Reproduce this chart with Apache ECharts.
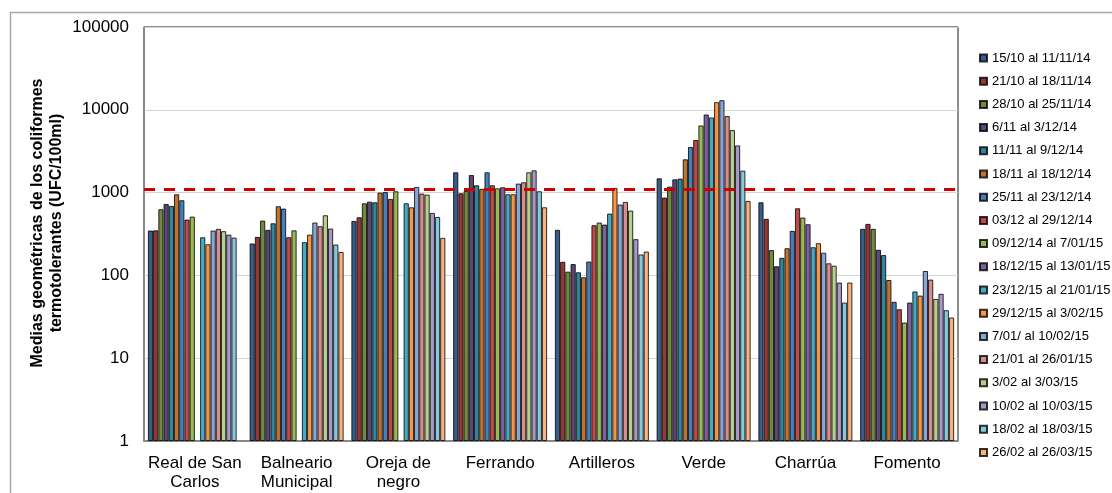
<!DOCTYPE html>
<html>
<head>
<meta charset="utf-8">
<script src="https://cdn.jsdelivr.net/npm/echarts@6/dist/echarts.min.js"></script>
<style>
html,body{margin:0;padding:0;background:#fff;}
#chart{width:1112px;height:493px;}
</style>
</head>
<body>
<div id="chart"></div>
<script>
const categories = ['Real de San\nCarlos', 'Balneario\nMunicipal', 'Oreja de\nnegro', 'Ferrando', 'Artilleros', 'Verde', 'Charrúa', 'Fomento'];
const seriesNames = ['15/10 al 11/11/14', '21/10 al 18/11/14', '28/10 al 25/11/14', '6/11 al 3/12/14', '11/11 al 9/12/14', '18/11 al 18/12/14', '25/11 al 23/12/14', '03/12 al 29/12/14', '09/12/14 al 7/01/15', '18/12/15 al 13/01/15', '23/12/15 al 21/01/15', '29/12/15 al 3/02/15', '7/01/ al 10/02/15', '21/01 al 26/01/15', '3/02 al 3/03/15', '10/02 al 10/03/15', '18/02 al 18/03/15', '26/02 al 26/03/15'];
const s1 = [348, 243, 455, 1758, 355, 1488, 765, 365];
const s2 = [350, 292, 504, 982, 146, 871, 482, 419];
const s3 = [630, 459, 743, 1047, 111, 1181, 202, 365];
const s4 = [730, 355, 778, 1633, 137, 1447, 129, 204];
const s5 = [690, 426, 764, 1226, 109, 1475, 163, 176];
const s6 = [955, 684, 1000, 1110, 95, 2524, 213, 88];
const s7 = [809, 641, 1019, 1758, 147, 3551, 345, 48];
const s8 = [472, 289, 839, 1226, 404, 4312, 647, 39];
const s9 = [513, 350, 1038, 1128, 435, 6475, 500, 27];
const s10 = [null, null, null, 1160, 411, 8785, 415, 47];
const s11 = [289, 252, 743, 955, 558, 8085, 219, 64];
const s12 = [238, 311, 665, 955, 1138, 12370, 245, 57];
const s13 = [348, 435, 1171, 1284, 717, 13070, 188, 113];
const s14 = [365, 393, 973, 1332, 772, 8400, 140, 89];
const s15 = [342, 533, 946, 1758, 607, 5690, 131, 52];
const s16 = [311, 368, 569, 1857, 274, 3715, 82, 60];
const s17 = [286, 236, 508, 1038, 179, 1843, 47, 38];
const s18 = [null, 192, 284, 665, 194, 794, 82, 31];
const limitValue = 1100;
const yTicks = [1, 10, 100, 1000, 10000, 100000];

const allSeries = [s1, s2, s3, s4, s5, s6, s7, s8, s9, s10, s11, s12, s13, s14, s15, s16, s17, s18];
const colors = ['#385D8A', '#953735', '#71893F', '#5C4776', '#31859C', '#BE7331',
  '#4A7EBB', '#BE4B48', '#98B954', '#7D60A0', '#46AAC5', '#F79646',
  '#87A6D6', '#D78D8B', '#B7D08E', '#A898C7', '#86C9DC', '#F9B27F'];
const FONT = '"Liberation Sans", Arial, sans-serif';

const series = allSeries.map((d, i) => {
  const s = {
    name: seriesNames[i],
    type: 'bar',
    data: d.map(v => v === null ? '-' : v),
    barGap: '0%',
    barCategoryGap: '7.6%',
    itemStyle: { color: colors[i], borderColor: 'rgba(0,0,0,0.8)', borderWidth: 1 },
    emphasis: { disabled: true },
    animation: false
  };
  if (i === allSeries.length - 1) {
    s.markLine = {
      silent: true,
      symbol: ['none', 'none'],
      label: { show: false },
      lineStyle: { color: '#CC0000', type: [11, 9], width: 3 },
      data: [{ yAxis: limitValue }],
      animation: false
    };
  }
  return s;
});

const chart = echarts.init(document.getElementById('chart'), null, { renderer: 'canvas' });
chart.setOption({
  animation: false,
  color: colors,
  textStyle: { fontFamily: FONT },
  grid: { left: 144, top: 27, right: 154, bottom: 52, show: true, borderColor: '#1a1a1a', borderWidth: 1 },
  legend: {
    orient: 'vertical',
    left: 979,
    top: 50,
    padding: 0,
    itemWidth: 7,
    itemHeight: 7,
    itemGap: 7.2,
    icon: 'rect',
    textStyle: { fontSize: 13, lineHeight: 16, color: '#000', fontFamily: FONT },
    data: seriesNames
  },
  xAxis: {
    type: 'category',
    data: categories,
    axisLine: { lineStyle: { color: '#888', width: 2 } },
    axisTick: { show: false },
    axisLabel: { interval: 0, fontSize: 17, lineHeight: 19, color: '#000', margin: 13, fontFamily: FONT }
  },
  yAxis: {
    type: 'log',
    logBase: 10,
    min: yTicks[0],
    max: yTicks[yTicks.length - 1],
    axisLine: { show: true, lineStyle: { color: '#888', width: 1.5 } },
    axisTick: { show: false },
    splitLine: { lineStyle: { color: '#d4d4d4', width: 1 } },
    axisLabel: { fontSize: 17, color: '#000', margin: 15, fontFamily: FONT, formatter: v => String(Math.round(v)) }
  },
  graphic: [
    { type: 'rect', left: 8, top: 10, shape: { width: 1200, height: 600 }, style: { fill: 'none', stroke: '#a6a6a6', lineWidth: 1.5 }, silent: true, z: -1 },
    { type: 'text', x: 47, y: 223, rotation: Math.PI / 2,
      style: { text: 'Medias geométricas de los coliformes\ntermotolerantes (UFC/100ml)', font: 'bold 16px ' + FONT, fill: '#000', align: 'center', verticalAlign: 'middle', lineHeight: 19 } }
  ],
  series: series
});
</script>
</body>
</html>
